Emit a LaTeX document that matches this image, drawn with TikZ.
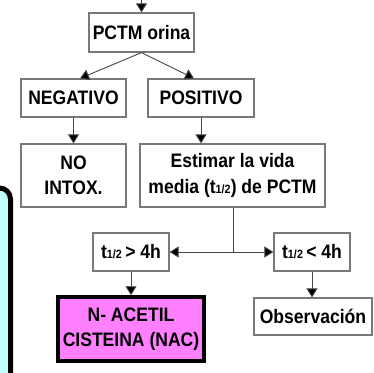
\documentclass[tikz,border=0pt]{standalone}
\usepackage{fontspec}
\setmainfont{Liberation Sans}[FakeStretch=0.9]
\usetikzlibrary{arrows.meta,calc}
\definecolor{boxgray}{RGB}{120,120,120}
\definecolor{linegray}{RGB}{70,70,70}
\definecolor{nacfill}{RGB}{255,128,255}
\definecolor{cyanfill}{RGB}{192,255,255}
\newcommand{\half}{{\fontsize{12}{12}\selectfont 1/2}}
\begin{document}
\begin{tikzpicture}[x=1pt,y=-1pt,
  box/.style={draw=boxgray,line width=1.2pt,fill=white,align=center,inner sep=0pt,
    font=\fontsize{19.5}{25.5}\selectfont\bfseries},
  conn/.style={draw=linegray,line width=0.9pt,-{Triangle[length=9pt,width=11pt,fill=black]}},
  plain/.style={draw=linegray,line width=0.9pt}]
\useasboundingbox (0,0) rectangle (374,372);
\begin{scope}
\clip (0,0) rectangle (374,372);
\draw[line width=5pt,fill=cyanfill,rounded corners=11pt] (-60,188) rectangle (10.5,430);
\end{scope}
\node[box,minimum width=105pt,minimum height=39pt] (pctm) at (141.5,32.5) {PCTM orina};
\node[box,minimum width=105pt,minimum height=38pt] (neg) at (73.5,98) {NEGATIVO};
\node[box,minimum width=106pt,minimum height=38pt] (pos) at (201,98) {POSITIVO};
\node[box,minimum width=105pt,minimum height=63pt] (no) at (73.5,175.5) {NO\\INTOX.};
\node[box,minimum width=185pt,minimum height=63pt] (est) at (232.5,175.5) {Estimar la vida\\media (t\half) de PCTM};
\node[box,minimum width=76pt,minimum height=38pt] (t1) at (131,252) {t\half\,> 4h};
\node[box,minimum width=76pt,minimum height=38pt] (t2) at (312,252) {t\half\,< 4h};
\node[box,draw=black,line width=3.5pt,fill=nacfill,minimum width=146pt,minimum height=64pt] (nac) at (131,329) {N- ACETIL\\CISTEINA (NAC)};
\node[box,minimum width=118pt,minimum height=37pt] (obs) at (313,316.5) {Observación};
\coordinate (top) at (141.5,0);
\coordinate (j) at (233,252);
\draw[conn] (top) -- (pctm.north);
\draw[conn] (pctm.south) -- ($(neg.north)+(6.5,0)$);
\draw[conn] (pctm.south) -- ($(pos.north)+(-7,0)$);
\draw[conn] (neg.south) -- (no.north);
\draw[conn] (pos.south) -- (pos.south |- est.north);
\draw[plain] (est.south -| j) -- (j);
\draw[conn] (j) -- (t1.east);
\draw[conn] (j) -- (t2.west);
\draw[conn] (t1.south) -- (nac.north);
\draw[conn] (t2.south) -- (t2.south |- obs.north);
\end{tikzpicture}
\end{document}
